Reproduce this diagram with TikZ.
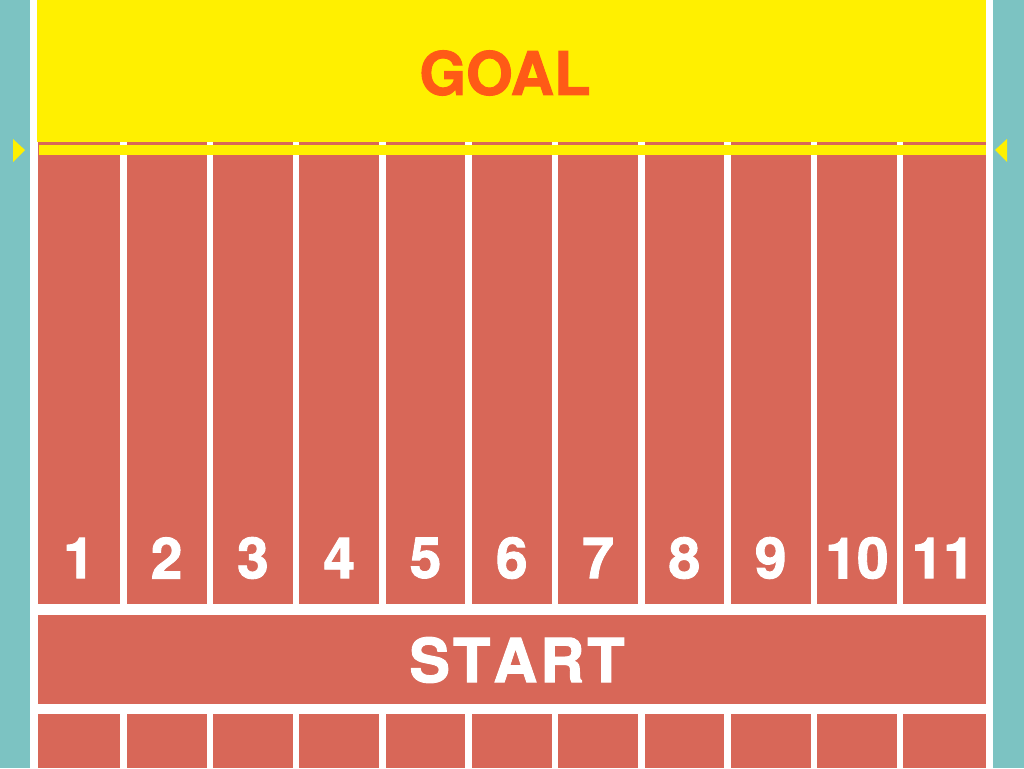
\documentclass[tikz,border=0pt]{standalone}
\usepackage{fontspec}
\setmainfont[BoldFeatures={FakeBold=1.6}]{TeX Gyre Heros}
\definecolor{sideteal}{HTML}{7CC3C2}
\definecolor{trackred}{HTML}{D86758}
\definecolor{goalyellow}{HTML}{FFF000}
\definecolor{goalorange}{HTML}{FF5A16}

\tikzset{
  lanenum/.style={font=\fontsize{57}{57}\selectfont\bfseries, text=white, inner sep=0pt},
  divider/.style={white, line width=6.5pt},
  marker/.style={fill=goalyellow, draw=none}
}

\begin{document}
\begin{tikzpicture}[x=1pt, y=-1pt]
\useasboundingbox (0,0) rectangle (1024,768);

% ============================
% Ground
% ============================
\fill[sideteal] (0,0) rectangle (1024,768);
\fill[white] (30,0) rectangle (993,768);

% ============================
% Goal area
% ============================
\fill[goalyellow] (37,0) rectangle (986,142);
\node[font=\fontsize{60}{60}\selectfont\bfseries, text=goalorange, inner sep=0pt]
  (goal) at (505,73) {GOAL};

% ============================
% Lanes
% ============================
\fill[trackred] (38,142) rectangle (986,604);
\fill[trackred] (38,714) rectangle (986,768);
\foreach \k in {0,...,9}{
  \draw[divider] (123.5+86.3*\k,142) -- (123.5+86.3*\k,604);
  \draw[divider] (123.5+86.3*\k,714) -- (123.5+86.3*\k,768);
}
\fill[goalyellow] (39,145) rectangle (986,155);

% ============================
% Start band
% ============================
\fill[trackred] (38,615) rectangle (986,704);
\node[font=\fontsize{61}{61}\selectfont\bfseries, text=white, inner sep=0pt]
  (start) at (517,660) {S\kern3pt T\kern3pt A\kern3pt R\kern3pt T};

% ============================
% Lane numbers
% ============================
\node[lanenum] (lane1) at (79,558) {1};
\foreach \i in {2,...,11}{
  \node[lanenum] (lane\i) at (166.6+86.3*\i-172.6,558) {\i};
}

% ============================
% Finish markers
% ============================
\fill[marker] (13,139) -- (25,150) -- (13,162) -- cycle;
\fill[marker] (1007,139) -- (995,150) -- (1007,162) -- cycle;

\end{tikzpicture}
\end{document}
